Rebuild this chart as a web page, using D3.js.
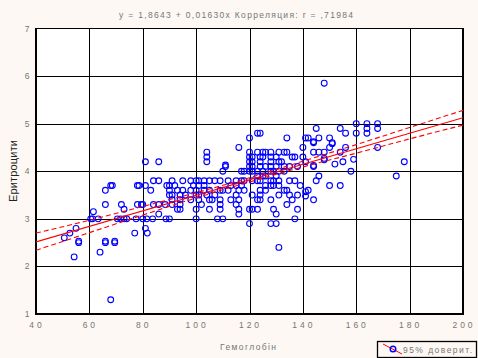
<!DOCTYPE html>
<html><head><meta charset="utf-8">
<script src="https://cdn.jsdelivr.net/npm/d3@7"></script>
<style>
html,body{margin:0;padding:0;background:#fdf8f3;}
svg{display:block;}
text{font-family:"Liberation Sans",Arial,sans-serif;}
</style></head>
<body>
<svg id="c" width="478" height="358"></svg>
<script>
// ---- data ----
const title = "y = 1,8643 + 0,01630x  Корреляция: r = ,71984";
const xLabel = "Гемоглобін";
const yLabel = "Еритроцити";
const legendLabel = "95% доверит.";
const xTicks = [40, 60, 80, 100, 120, 140, 160, 180, 200];
const yTicks = [1, 2, 3, 4, 5, 6, 7];
const intercept = 1.8643, slope = 0.01630;
// confidence band read at x ticks
const bandX     = [40, 60, 80, 100, 120, 140, 160, 180, 200];
const bandUpper = [2.70, 2.97, 3.26, 3.55, 3.865, 4.21, 4.56, 4.92, 5.28];
const bandLower = [2.34, 2.71, 3.08, 3.44, 3.775, 4.09, 4.38, 4.68, 4.97];
// [hemoglobin, erythrocytes]
const groupLow = [[50.6,2.6],[52.7,2.7],[54.3,2.2],[55,2.8],[56,2.5],[56,2.53],[60.5,3.0],[61.2,3.0],[61.5,3.15],[63.3,3.0],[64,2.3],[66,3.6],[66,3.3],[66,2.5],[66,2.53],[68,3.7],[68.6,3.7],[68,1.3],[69.5,2.5],[69.5,2.53],[70.5,3.0],[71.7,3.0],[72,3.3],[73,3.2],[73,3.0],[74,3.0],[77,2.7],[77.5,3.0],[78,3.7],[78.6,3.7],[78,3.3],[79.5,3.3],[80,3.3],[80,3.0],[81,3.7],[81,2.8],[81.7,2.7],[81.5,3.0],[81,4.2],[83,3.6],[83.7,3.0],[84,3.8],[84,3.3],[86,3.8],[86,3.3],[86,3.1],[86,4.2],[88.7,3.0],[89,3.7],[88.4,3.3]];
const groupMid = [[123,4.8],[124,4.8],[120,4.7],[134,4.7],[116,4.5],
[104,4.4],[120,4.4],[123,4.4],[125,4.4],[126,4.4],[128,4.4],[131,4.4],[133,4.4],[134,4.4],
[104,4.3],[120,4.3],[121,4.3],[124,4.3],[125,4.3],[128,4.3],[130,4.3],[136,4.3],[137,4.3],
[104,4.2],[120,4.2],[121,4.2],[124,4.2],[128,4.2],[131,4.2],[132,4.2],
[111,4.1],[111,4.13],[120,4.1],[121,4.1],[124,4.1],[126,4.1],[128,4.1],[130,4.1],[133,4.1],[135,4.1],[138,4.1],
[110,4.0],[117,4.0],[118,4.0],[120,4.0],[121,4.0],[123,4.0],[125,4.0],[128,4.0],[129,4.0],[131,4.0],[133,4.0],
[123,3.9],[125,3.9],[126,3.9],[130,3.9],
[91,3.8],[95,3.8],[98,3.8],[100,3.8],[101,3.8],[103,3.8],[105,3.8],[107,3.8],[109,3.8],[112,3.8],[115,3.8],[117,3.8],[118,3.8],[121,3.8],[123,3.8],[124,3.8],[128,3.8],[129,3.8],[131,3.8],[135,3.8],[137,3.8],
[90,3.7],[92,3.7],[99,3.7],[101,3.7],[103,3.7],[113,3.7],[115,3.7],[117,3.7],[126,3.7],[128,3.7],[129,3.7],[131,3.7],[139,3.7],
[90,3.6],[93,3.6],[95,3.6],[98,3.6],[100,3.6],[103,3.6],[105,3.6],[109,3.6],[110,3.6],[112,3.6],[116,3.6],[118,3.6],[124,3.6],[126,3.6],[133,3.6],[134,3.6],
[90,3.5],[91,3.5],[94,3.5],[96,3.5],[100,3.5],[101,3.5],[104,3.5],[107,3.5],[115,3.5],[121,3.5],[124,3.5],[131,3.5],[135,3.5],[138,3.5],
[91,3.4],[94,3.4],[98,3.4],[101,3.4],[105,3.4],[106,3.4],[109,3.4],[113,3.4],[116,3.4],[123,3.4],[124,3.4],[128,3.4],[136,3.4],[144,3.4],
[91,3.3],[94,3.3],[102,3.3],[109,3.3],[115,3.3],[134,3.3],
[93,3.2],[94,3.2],[100,3.2],[105,3.2],[109,3.2],[116,3.2],[120,3.2],[121,3.2],[123,3.2],[129,3.2],[138,3.2],
[116,3.1],[130,3.1],
[90,3.0],[100,3.0],[108,3.0],[110,3.0],[137,3.0],
[120,2.9],[128,2.9],[130,2.9],[131,2.4]];
const groupHigh = [[148,5.85],[160,5.0],[164,5.0],[168,5.0],[164,4.9],[168,4.9],[160,4.8],[164,4.8],[145,4.9],[154,4.9],[156,4.8],
[141,4.7],[142,4.7],[144,4.6],[144,4.62],[146,4.7],[150,4.7],[151,4.6],[151,4.58],[140,4.5],[144,4.4],[146,4.4],[148,4.4],[150,4.5],[154,4.4],[156,4.5],[168,4.5],
[140,4.3],[148,4.27],[148,4.24],[141,4.2],[144,4.1],[144,4.12],[152,4.15],[155,4.2],[159,4.25],[178,4.2],[158,4.0],[146,3.9],[145,3.8],[150,3.7],[154,3.7],[175,3.9],[142,3.6],[141,3.57],[141,3.48]];

// ---- drawing ----
const svg = d3.select("#c");
const W = 478, H = 358;
svg.append("rect").attr("width", W).attr("height", H).attr("fill", "#fdf8f3");
const L = 36, R = 463, T = 28.5, B = 314;
const x = d3.scaleLinear().domain([40, 200]).range([L, R]);
const y = d3.scaleLinear().domain([1, 7]).range([B, T]);
const grey = "#767676";

svg.append("rect").attr("x", L).attr("y", T).attr("width", R - L).attr("height", B - T).attr("fill", "#fff");

const grid = svg.append("g").attr("stroke", "#000").attr("stroke-width", 1).attr("shape-rendering", "crispEdges");
grid.selectAll("line.v").data(xTicks.slice(1, -1)).join("line")
  .attr("x1", d => Math.round(x(d)) + 0.5).attr("x2", d => Math.round(x(d)) + 0.5).attr("y1", T).attr("y2", B);
grid.selectAll("line.h").data(yTicks.slice(1, -1)).join("line")
  .attr("y1", d => Math.round(y(d)) + 0.5).attr("y2", d => Math.round(y(d)) + 0.5).attr("x1", L).attr("x2", R);
svg.append("rect").attr("x", L).attr("y", T).attr("width", R - L).attr("height", B - T)
  .attr("fill", "none").attr("stroke", "#000").attr("stroke-width", 1.3).attr("shape-rendering", "crispEdges");

// tick labels
svg.append("g").selectAll("text").data(xTicks).join("text")
  .attr("x", d => x(d) + 1).attr("y", 328).attr("text-anchor", "middle")
  .attr("font-size", 8.5).attr("letter-spacing", 3).attr("fill", grey).text(d => d);
svg.append("g").selectAll("text").data(yTicks).join("text")
  .attr("x", 27).attr("y", d => y(d) + 3).attr("text-anchor", "middle")
  .attr("font-size", 8.5).attr("fill", grey).text(d => d);

// title
svg.append("text").attr("x", 119).attr("y", 18).attr("font-size", 8.5).attr("fill", grey)
  .attr("textLength", 234).attr("lengthAdjust", "spacing").text(title);
// axis labels
svg.append("text").attr("x", 220).attr("y", 350).attr("font-size", 8.5).attr("fill", grey)
  .attr("textLength", 56).attr("lengthAdjust", "spacing").text(xLabel);
svg.append("text").attr("transform", "translate(17,202) rotate(-90)").attr("font-size", 11)
  .attr("fill", "#222").attr("textLength", 62).attr("lengthAdjust", "spacing").text(yLabel);

// points
const pts = groupLow.concat(groupMid, groupHigh);
svg.append("clipPath").attr("id", "pc").append("rect")
  .attr("x", L).attr("y", T).attr("width", R - L).attr("height", B - T);
const plot = svg.append("g").attr("clip-path", "url(#pc)");
plot.selectAll("circle").data(pts).join("circle")
  .attr("cx", d => x(d[0])).attr("cy", d => y(d[1])).attr("r", 2.9)
  .attr("fill", "none").attr("stroke", "#0000ff").attr("stroke-width", 1.1);

// regression line and confidence bands
plot.append("line").attr("x1", x(40)).attr("x2", x(200))
  .attr("y1", y(intercept + slope * 40)).attr("y2", y(intercept + slope * 200))
  .attr("stroke", "#ff0000").attr("stroke-width", 1.1);
const band = d3.line().x((d, i) => x(bandX[i])).y(d => y(d)).curve(d3.curveMonotoneX);
[bandUpper, bandLower].forEach(b => {
  plot.append("path").attr("d", band(b)).attr("fill", "none")
    .attr("stroke", "#ff0000").attr("stroke-width", 1.1).attr("stroke-dasharray", "5,3");
});

// legend
const lg = svg.append("g");
lg.append("rect").attr("x", 377.5).attr("y", 341.5).attr("width", 99).attr("height", 16)
  .attr("fill", "#fdf8f3").attr("stroke", "#000").attr("stroke-width", 1.3);
lg.append("line").attr("x1", 383).attr("y1", 344).attr("x2", 402).attr("y2", 354)
  .attr("stroke", "#ff0000").attr("stroke-width", 1);
lg.append("circle").attr("cx", 393).attr("cy", 349).attr("r", 2.8)
  .attr("fill", "none").attr("stroke", "#0000ff").attr("stroke-width", 1.4);
lg.append("text").attr("x", 403).attr("y", 353).attr("font-size", 8.5).attr("fill", grey)
  .attr("textLength", 69).attr("lengthAdjust", "spacing").text(legendLabel);
</script>
</body></html>
